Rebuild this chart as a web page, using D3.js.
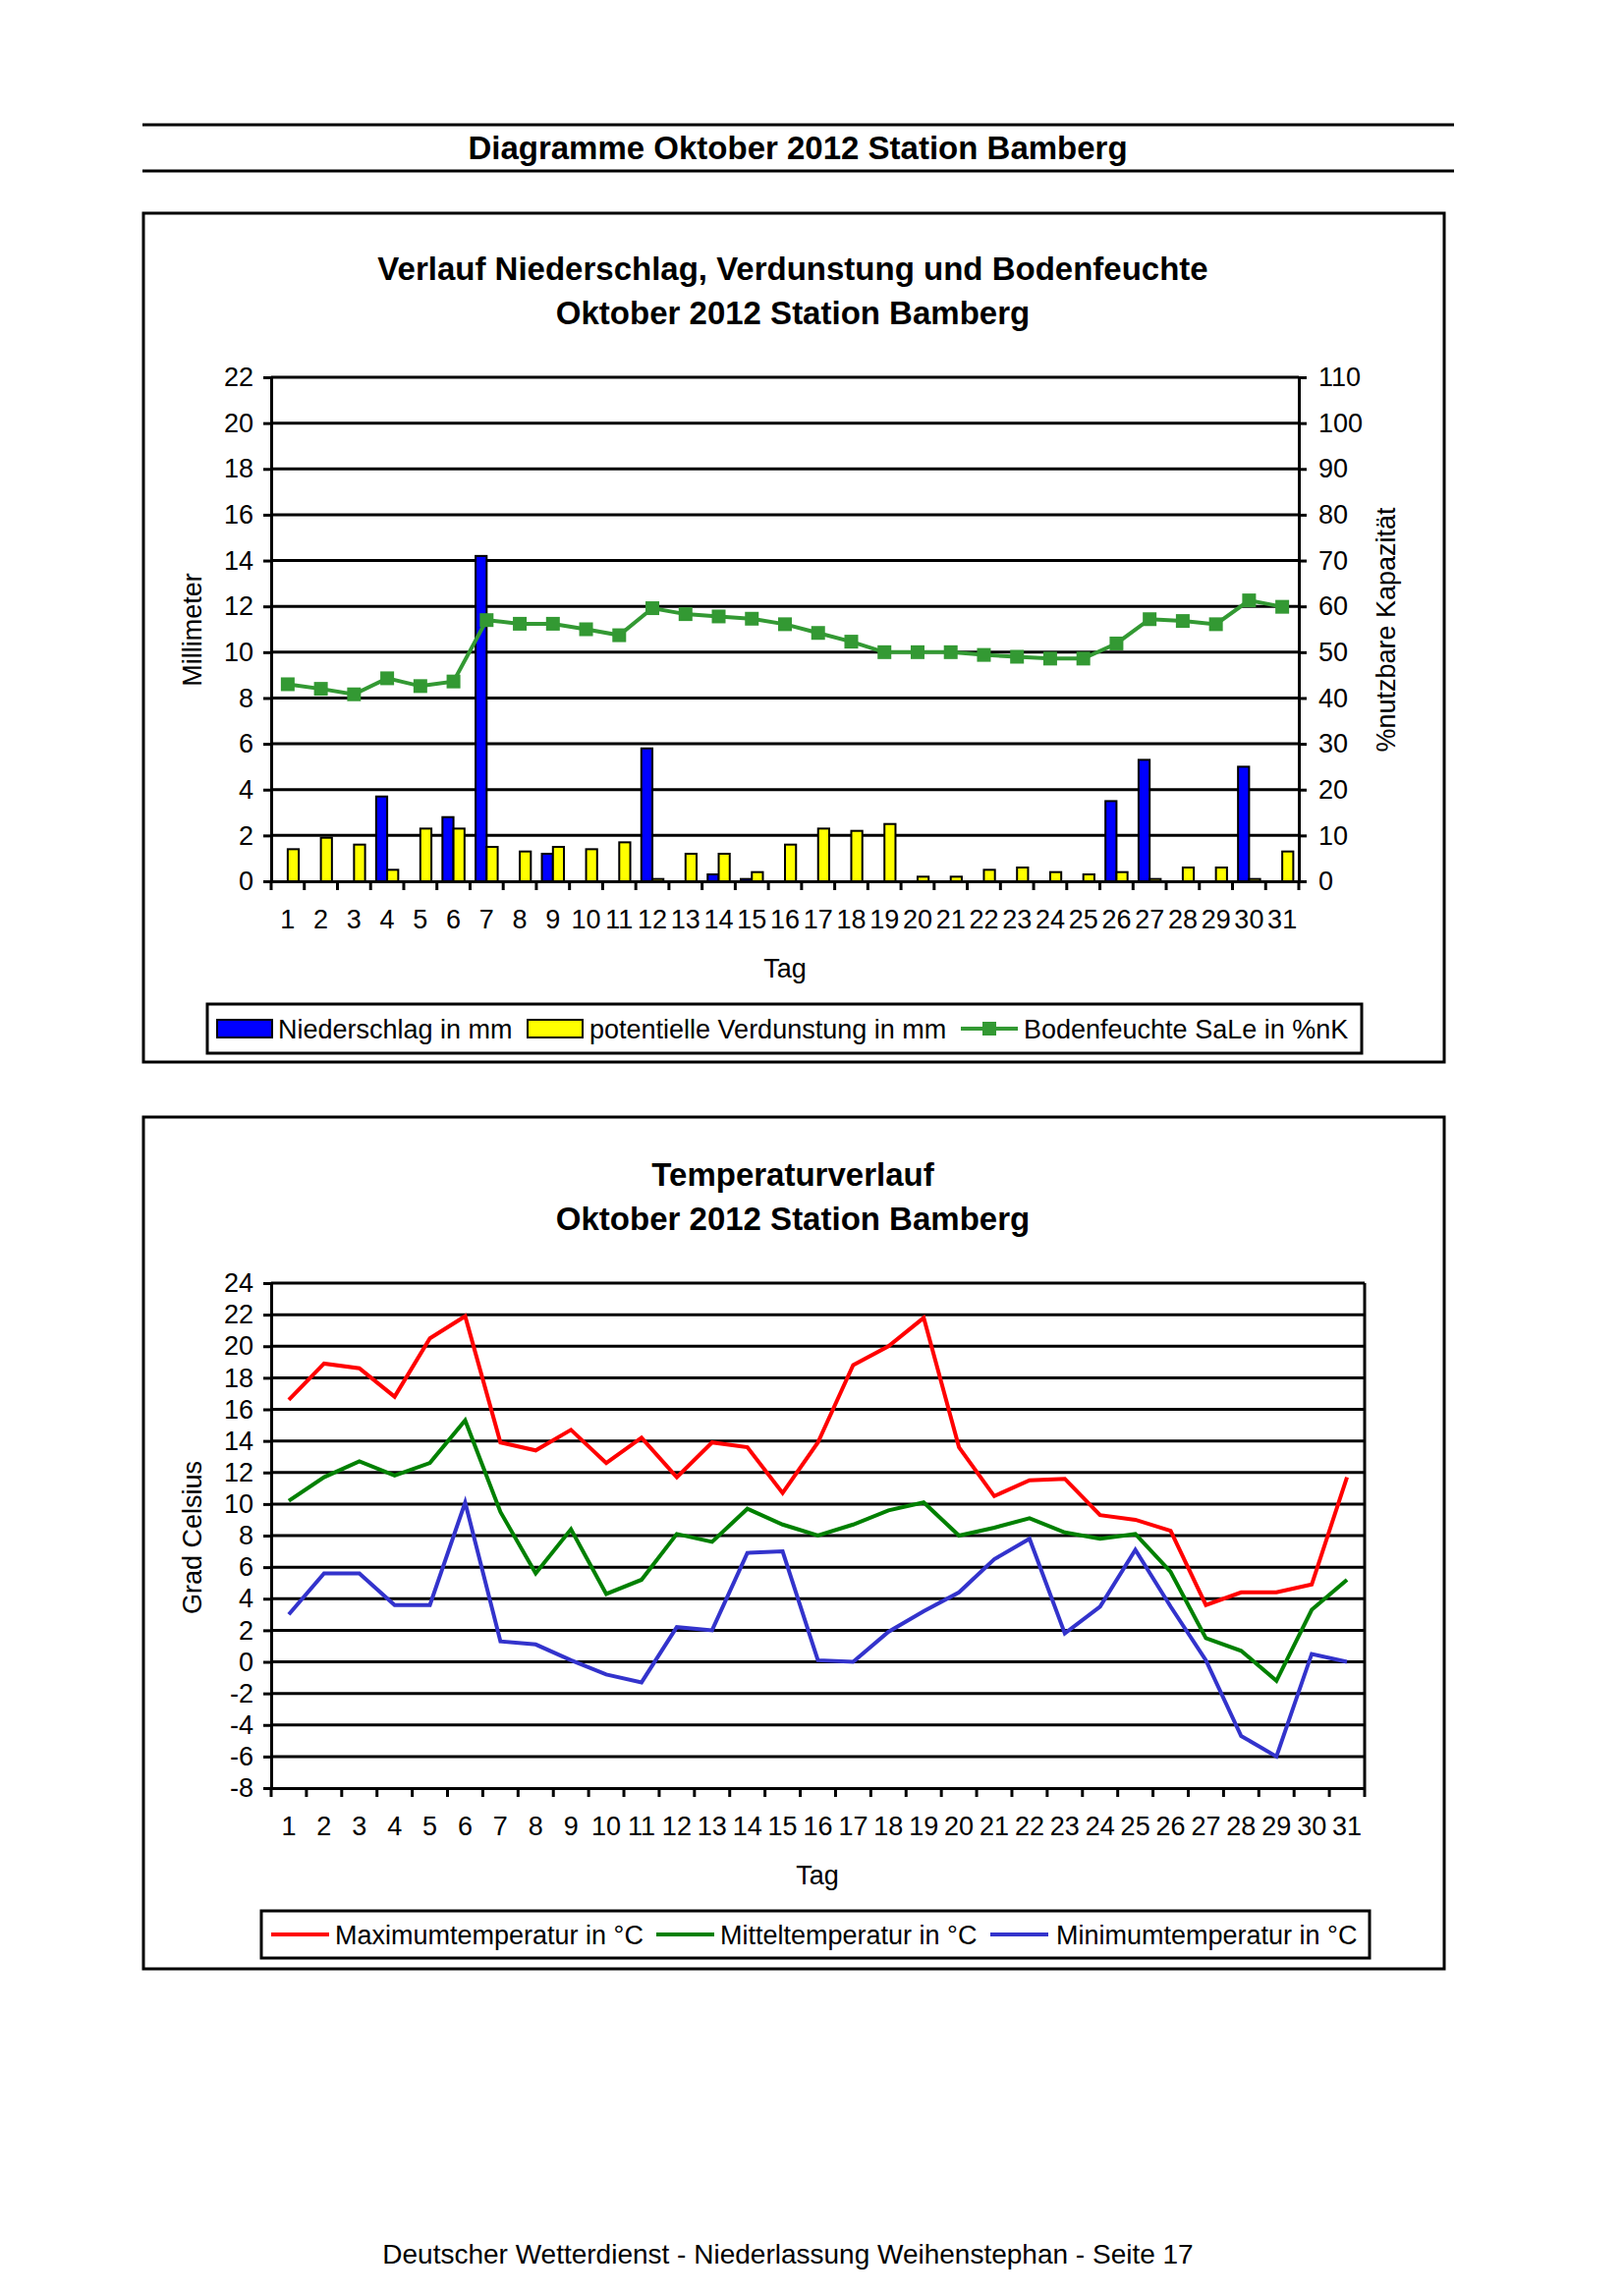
<!DOCTYPE html>
<html><head><meta charset="utf-8">
<script src="https://cdn.jsdelivr.net/npm/d3@7"></script>
<style>body{margin:0;background:#fff}svg{display:block;font-family:"Liberation Sans",Arial,sans-serif}</style>
</head><body>
<script>
// ---------- DATA ----------
const days = ["1","2","3","4","5","6","7","8","9","10","11","12","13","14","15","16","17","18","19","20","21","22","23","24","25","26","27","28","29","30","31"];
const niederschlag = [0,0,0,3.7,0,2.8,14.2,0,1.2,0,0,5.8,0,0.3,0.1,0,0,0,0,0,0,0,0,0,0,3.5,5.3,0,0,5.0,0];
const verdunstung = [1.4,1.9,1.6,0.5,2.3,2.3,1.5,1.3,1.5,1.4,1.7,0.1,1.2,1.2,0.4,1.6,2.3,2.2,2.5,0.2,0.2,0.5,0.6,0.4,0.3,0.4,0.1,0.6,0.6,0.1,1.3];
const bodenfeuchte = [43.0,42.0,40.8,44.3,42.6,43.6,57.0,56.2,56.2,55.0,53.7,59.6,58.3,57.8,57.3,56.1,54.2,52.3,50.0,50.0,50.0,49.4,49.0,48.6,48.6,51.9,57.2,56.8,56.1,61.3,59.9];
const tmax = [16.6,18.9,18.6,16.8,20.5,21.9,13.9,13.4,14.7,12.6,14.2,11.7,13.9,13.6,10.7,13.9,18.8,20.0,21.8,13.6,10.5,11.5,11.6,9.3,9.0,8.3,3.6,4.4,4.4,4.9,11.7];
const tmean = [10.2,11.7,12.7,11.8,12.6,15.3,9.5,5.6,8.4,4.3,5.2,8.1,7.6,9.7,8.7,8.0,8.7,9.6,10.1,8.0,8.5,9.1,8.2,7.8,8.1,5.7,1.5,0.7,-1.2,3.3,5.2];
const tmin = [3.0,5.6,5.6,3.6,3.6,10.1,1.3,1.1,0.1,-0.8,-1.3,2.2,2.0,6.9,7.0,0.1,0.0,1.9,3.2,4.4,6.5,7.8,1.8,3.5,7.1,3.5,0.1,-4.7,-6.0,0.5,0.0];
const mmTicks = [0,2,4,6,8,10,12,14,16,18,20,22];
const pctTicks = [0,10,20,30,40,50,60,70,80,90,100,110];
const tempTicks = [-8,-6,-4,-2,0,2,4,6,8,10,12,14,16,18,20,22,24];

const FONT = '"Liberation Sans",Arial,sans-serif';
const FS = 27;
const svg = d3.select("body").append("svg").attr("width",1653).attr("height",2337);
const fmt = d => String(d); // plain hyphen minus

// ---------- page header ----------
svg.append("line").attr("x1",145).attr("x2",1480).attr("y1",127).attr("y2",127).attr("stroke","#000").attr("stroke-width",3);
svg.append("line").attr("x1",145).attr("x2",1480).attr("y1",174).attr("y2",174).attr("stroke","#000").attr("stroke-width",3);
svg.append("text").attr("x",812).attr("y",162).attr("text-anchor","middle").attr("font-size",33).attr("font-weight","bold").text("Diagramme Oktober 2012 Station Bamberg");

// ---------- chart frames ----------
svg.append("rect").attr("x",146).attr("y",217).attr("width",1324).attr("height",864).attr("fill","none").attr("stroke","#000").attr("stroke-width",3);
svg.append("rect").attr("x",146).attr("y",1137).attr("width",1324).attr("height",867).attr("fill","none").attr("stroke","#000").attr("stroke-width",3);

function titles(lines, ys){
  lines.forEach((t,i)=>svg.append("text").attr("x",807).attr("y",ys[i]).attr("text-anchor","middle")
    .attr("font-size",33).attr("font-weight","bold").text(t));
}
titles(["Verlauf Niederschlag, Verdunstung und Bodenfeuchte","Oktober 2012 Station Bamberg"],[285,330]);
titles(["Temperaturverlauf","Oktober 2012 Station Bamberg"],[1207,1252]);

function styleAxis(g){
  g.selectAll("path.domain").attr("stroke","#000").attr("stroke-width",3);
  g.selectAll(".tick line").attr("stroke","#000").attr("stroke-width",3);
  g.selectAll("text").attr("font-size",FS).attr("font-family",FONT).attr("fill","#000");
}

// ---------- TOP CHART ----------
{
  const L=276,R=1322,T=384,B=897;
  const x = d3.scaleBand().domain(days).range([L,R]);
  const bw = x.bandwidth();
  const y = d3.scaleLinear().domain([0,22]).range([B,T]);
  const y2 = d3.scaleLinear().domain([0,110]).range([B,T]);
  const g = svg.append("g");
  g.selectAll("line.grid").data(mmTicks.filter(v=>v>0)).join("line")
    .attr("x1",L).attr("x2",R).attr("y1",d=>y(d)).attr("y2",d=>y(d)).attr("stroke","#000").attr("stroke-width",3);
  g.selectAll("rect.n").data(days).join("rect")
    .attr("x",d=>x(d)+bw/6).attr("width",bw/3)
    .attr("y",(d,i)=>y(niederschlag[i])).attr("height",(d,i)=>B-y(niederschlag[i]))
    .attr("fill","#0000ff").attr("stroke","#000").attr("stroke-width",2)
    .attr("display",(d,i)=>niederschlag[i]>0?null:"none");
  g.selectAll("rect.v").data(days).join("rect")
    .attr("x",d=>x(d)+bw/2).attr("width",bw/3)
    .attr("y",(d,i)=>y(verdunstung[i])).attr("height",(d,i)=>B-y(verdunstung[i]))
    .attr("fill","#ffff00").attr("stroke","#000").attr("stroke-width",2)
    .attr("display",(d,i)=>verdunstung[i]>0?null:"none");
  const line = d3.line().x((d,i)=>x(days[i])+bw/2).y(d=>y2(d));
  g.append("path").datum(bodenfeuchte).attr("d",line).attr("fill","none").attr("stroke","#339933").attr("stroke-width",4);
  g.selectAll("rect.m").data(bodenfeuchte).join("rect")
    .attr("x",(d,i)=>x(days[i])+bw/2-7).attr("y",d=>y2(d)-7).attr("width",14).attr("height",14).attr("fill","#339933");
  const ax = g.append("g").attr("transform",`translate(${L},0)`).call(d3.axisLeft(y).tickValues(mmTicks).tickFormat(fmt).tickSize(8).tickPadding(10).tickSizeOuter(0));
  styleAxis(ax);
  const ax2 = g.append("g").attr("transform",`translate(${R},0)`).call(d3.axisRight(y2).tickValues(pctTicks).tickFormat(fmt).tickSize(8).tickPadding(12).tickSizeOuter(0));
  styleAxis(ax2);
  const axb = g.append("g").attr("transform",`translate(0,${B})`).call(d3.axisBottom(x).tickSize(0).tickPadding(39));
  styleAxis(axb);
  axb.selectAll("text").attr("dy","0.35em");
  g.selectAll("line.xt").data(days.concat(["end"])).join("line")
    .attr("x1",(d,i)=>i<days.length?x(d):R).attr("x2",(d,i)=>i<days.length?x(d):R)
    .attr("y1",B).attr("y2",B+9).attr("stroke","#000").attr("stroke-width",3);
  g.append("text").attr("transform","translate(205,641) rotate(-90)").attr("text-anchor","middle").attr("font-size",FS).text("Millimeter");
  g.append("text").attr("transform","translate(1420,641) rotate(-90)").attr("text-anchor","middle").attr("font-size",FS).text("%nutzbare Kapazität");
  g.append("text").attr("x",799).attr("y",995).attr("text-anchor","middle").attr("font-size",FS).text("Tag");
  const lg = svg.append("g");
  lg.append("rect").attr("x",211).attr("y",1022).attr("width",1175).attr("height",50).attr("fill","#fff").attr("stroke","#000").attr("stroke-width",3);
  lg.append("rect").attr("x",221).attr("y",1038).attr("width",56).attr("height",18).attr("fill","#0000ff").attr("stroke","#000").attr("stroke-width",2);
  lg.append("text").attr("x",283).attr("y",1057).attr("font-size",FS).text("Niederschlag in mm");
  lg.append("rect").attr("x",537).attr("y",1038).attr("width",56).attr("height",18).attr("fill","#ffff00").attr("stroke","#000").attr("stroke-width",2);
  lg.append("text").attr("x",600).attr("y",1057).attr("font-size",FS).text("potentielle Verdunstung in mm");
  lg.append("line").attr("x1",978).attr("x2",1036).attr("y1",1047).attr("y2",1047).attr("stroke","#339933").attr("stroke-width",4);
  lg.append("rect").attr("x",1000).attr("y",1040).attr("width",14).attr("height",14).attr("fill","#339933");
  lg.append("text").attr("x",1042).attr("y",1057).attr("font-size",FS).text("Bodenfeuchte SaLe in %nK");
}

// ---------- BOTTOM CHART ----------
{
  const L=276,R=1389,T=1306,B=1820;
  const x = d3.scaleBand().domain(days).range([L,R]);
  const bw = x.bandwidth();
  const y = d3.scaleLinear().domain([-8,24]).range([B,T]);
  const g = svg.append("g");
  g.selectAll("line.grid").data(tempTicks.filter(v=>v>-8)).join("line")
    .attr("x1",L).attr("x2",R).attr("y1",d=>y(d)).attr("y2",d=>y(d)).attr("stroke","#000").attr("stroke-width",3);
  g.append("line").attr("x1",R).attr("x2",R).attr("y1",T).attr("y2",B).attr("stroke","#000").attr("stroke-width",3);
  const series = [[tmax,"#ff0000"],[tmean,"#008000"],[tmin,"#3333cc"]];
  const line = d3.line().x((d,i)=>x(days[i])+bw/2).y(d=>y(d));
  series.forEach(([data,c])=>g.append("path").datum(data).attr("d",line).attr("fill","none").attr("stroke",c).attr("stroke-width",4).attr("stroke-linejoin","miter"));
  const ax = g.append("g").attr("transform",`translate(${L},0)`).call(d3.axisLeft(y).tickValues(tempTicks).tickFormat(fmt).tickSize(8).tickPadding(10).tickSizeOuter(0));
  styleAxis(ax);
  const axb = g.append("g").attr("transform",`translate(0,${B})`).call(d3.axisBottom(x).tickSize(0).tickPadding(39));
  styleAxis(axb);
  axb.selectAll("text").attr("dy","0.35em");
  g.selectAll("line.xt").data(days.concat(["end"])).join("line")
    .attr("x1",(d,i)=>i<days.length?x(d):R).attr("x2",(d,i)=>i<days.length?x(d):R)
    .attr("y1",B).attr("y2",B+9).attr("stroke","#000").attr("stroke-width",3);
  g.append("text").attr("transform","translate(205,1565) rotate(-90)").attr("text-anchor","middle").attr("font-size",FS).text("Grad Celsius");
  g.append("text").attr("x",832).attr("y",1918).attr("text-anchor","middle").attr("font-size",FS).text("Tag");
  const lg = svg.append("g");
  lg.append("rect").attr("x",266).attr("y",1945).attr("width",1128).attr("height",48).attr("fill","#fff").attr("stroke","#000").attr("stroke-width",3);
  const items = [["Maximumtemperatur in °C","#ff0000",276,341],["Mitteltemperatur in °C","#008000",668,733],["Minimumtemperatur in °C","#3333cc",1008,1075]];
  items.forEach(([t,c,lx,tx])=>{
    lg.append("line").attr("x1",lx).attr("x2",lx+59).attr("y1",1969).attr("y2",1969).attr("stroke",c).attr("stroke-width",4);
    lg.append("text").attr("x",tx).attr("y",1979).attr("font-size",FS).text(t);
  });
}

// ---------- footer ----------
svg.append("text").attr("x",802).attr("y",2304).attr("text-anchor","middle").attr("font-size",28).text("Deutscher Wetterdienst - Niederlassung Weihenstephan - Seite 17");
</script>
</body></html>
